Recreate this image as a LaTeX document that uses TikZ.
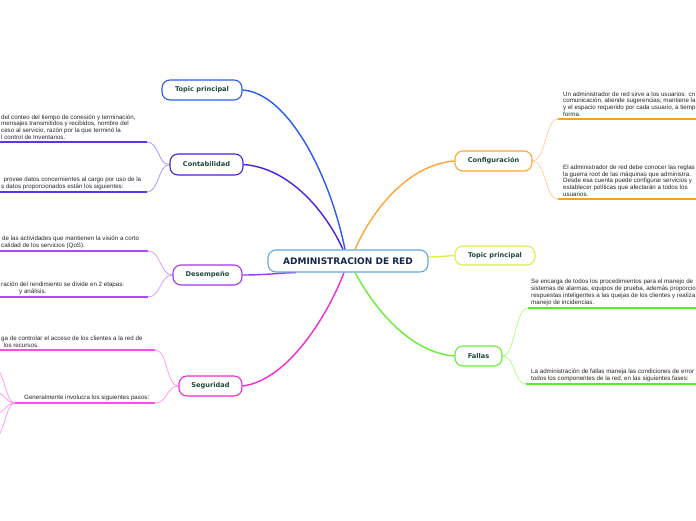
\documentclass[tikz,border=0pt]{standalone}
\usepackage{fontspec}
\setmainfont{Liberation Sans}
\newfontfamily\labfont{DejaVu Sans}
\usetikzlibrary{calc}
\pgfdeclarelayer{background}
\pgfsetlayers{background,main}
\definecolor{nodetext}{HTML}{1E4A3C}
\definecolor{bodytext}{HTML}{262626}
\definecolor{rootborder}{HTML}{5FA8E0}
\definecolor{roottext}{HTML}{14284B}
\definecolor{tpblue}{HTML}{2A5BF0}
\definecolor{contc}{HTML}{4B1FE0}
\definecolor{contsub}{HTML}{A898FF}
\definecolor{contline}{HTML}{5A35F0}
\definecolor{desc}{HTML}{A435EE}
\definecolor{dessub}{HTML}{D49CFF}
\definecolor{desline}{HTML}{B048F5}
\definecolor{segc}{HTML}{F02AD8}
\definecolor{segsub}{HTML}{FF9CEF}
\definecolor{segline}{HTML}{FF4CEB}
\definecolor{confc}{HTML}{FFA535}
\definecolor{confsub}{HTML}{FFD09A}
\definecolor{confline}{HTML}{FFA020}
\definecolor{tprc}{HTML}{DDEE44}
\definecolor{falc}{HTML}{66EE33}
\definecolor{falsub}{HTML}{B0FF90}
\definecolor{falline}{HTML}{55EE22}
\begin{document}
\begin{tikzpicture}[x=1pt,y=-1pt,
  topic/.style={draw, rounded corners=8pt, fill=white, line width=1.1pt, inner sep=0pt,
    minimum height=20pt, font=\labfont\bfseries\fontsize{6.6}{7}\selectfont, text=nodetext},
  body/.style={inner sep=0pt, align=left, anchor=south west,
    font=\fontsize{6.2}{6.9}\selectfont, text=bodytext},
  mainlink/.style={line width=1.4pt},
  sublink/.style={line width=0.8pt},
  uline/.style={line width=2pt}]
\useasboundingbox (0,0) rectangle (696,520);

% nodes
\node[topic, draw=rootborder, minimum width=160pt, minimum height=22pt,
  font=\labfont\bfseries\fontsize{9}{10}\selectfont, text=roottext] (root) at (348,261) {ADMINISTRACION DE RED};
\node[topic, draw=tpblue, minimum width=80pt] (tpl) at (202,90) {Topic principal};
\node[topic, draw=contc, minimum width=73pt, minimum height=21pt] (cont) at (206.5,164.5) {Contabilidad};
\node[topic, draw=desc, minimum width=69pt] (des) at (207.5,275) {Desempeño};
\node[topic, draw=segc, minimum width=63pt] (seg) at (210.5,386) {Seguridad};
\node[topic, draw=confc, minimum width=77pt] (conf) at (493.5,161) {Configuración};
\node[topic, draw=tprc, minimum width=80pt, minimum height=19pt] (tpr) at (495,255.5) {Topic principal};
\node[topic, draw=falc, minimum width=47pt] (fal) at (478.5,356) {Fallas};

% coordinates of branch line ends
\coordinate (c1) at (147,142); \coordinate (c1l) at (-5,142);
\coordinate (c2) at (147,192); \coordinate (c2l) at (-5,192);
\coordinate (d1) at (148,251); \coordinate (d1l) at (-5,251);
\coordinate (d2) at (148,297); \coordinate (d2l) at (-5,297);
\coordinate (s1) at (155,350); \coordinate (s1l) at (-5,350);
\coordinate (s2) at (155,403); \coordinate (s2l) at (15,403);
\coordinate (g1) at (558,119); \coordinate (g1r) at (700,119);
\coordinate (g2) at (558,199); \coordinate (g2r) at (700,199);
\coordinate (f1) at (528,308); \coordinate (f1r) at (700,308);
\coordinate (f2) at (526,384); \coordinate (f2r) at (700,384);
\coordinate (x1) at (-14,362);
\coordinate (x2) at (-14,390);
\coordinate (x3) at (-14,416);
\coordinate (x4) at (-14,444);

\begin{pgfonlayer}{background}
% main links
\draw[mainlink, tpblue] (tpl.east) .. controls (288,93) and (330,175) .. ($(root.north)+(-3,0)$);
\draw[mainlink, contc] (cont.east) .. controls (290,168) and (326,212) .. ($(root.north)+(-5,0)$);
\draw[mainlink, desc] (des.east) .. controls (265,275) and (280,273) .. ($(root.south)+(-52,0)$);
\draw[mainlink, segc] (seg.east) .. controls (290,380) and (330,310) .. ($(root.south)+(-4,0)$);
\draw[mainlink, confc] (conf.west) .. controls (405,165) and (370,215) .. ($(root.north)+(7,0)$);
\draw[mainlink, tprc] ($(root.east)+(0,-4)$) .. controls (440,257) and (445,256) .. (tpr.west);
\draw[mainlink, falc] (fal.west) .. controls (405,352) and (370,300) .. ($(root.south)+(7,0)$);

% sub links
\draw[sublink, contsub] (cont.west) .. controls (158,165) and (159,142) .. (c1);
\draw[sublink, contsub] (cont.west) .. controls (158,165) and (159,192) .. (c2);
\draw[sublink, dessub] (des.west) .. controls (160,275) and (161,251) .. (d1);
\draw[sublink, dessub] (des.west) .. controls (160,275) and (161,297) .. (d2);
\draw[sublink, segsub] (seg.west) .. controls (166,386) and (168,350) .. (s1);
\draw[sublink, segsub] (seg.west) .. controls (166,386) and (168,403) .. (s2);
\draw[sublink, confsub] (conf.east) .. controls (546,161) and (545,119) .. (g1);
\draw[sublink, confsub] (conf.east) .. controls (546,161) and (545,199) .. (g2);
\draw[sublink, falsub] (fal.east) .. controls (515,356) and (515,308) .. (f1);
\draw[sublink, falsub] (fal.east) .. controls (515,356) and (514,384) .. (f2);
\foreach \t in {x1,x2,x3,x4}
  \draw[sublink, segsub] (s2l) .. controls (4,403) and (6,0|-\t) .. (\t);
\end{pgfonlayer}

% underlines
\draw[uline, contline] (c1) -- (c1l);
\draw[uline, contline] (c2) -- (c2l);
\draw[uline, desline] (d1) -- (d1l);
\draw[uline, desline] (d2) -- (d2l);
\draw[uline, segline] (s1) -- (s1l);
\draw[uline, segline] (s2) -- (s2l);
\draw[uline, confline] (g1) -- (g1r);
\draw[uline, confline] (g2) -- (g2r);
\draw[uline, falline] (f1) -- (f1r);
\draw[uline, falline] (f2) -- (f2r);

% texts
\node[body] (tc1) at (1,140) {del conteo del tiempo de conesión y terminación,\\mensajes transmitidos y recibidos, nombre del\\ceso al servicio, razón por la que terminó la\\l control de Inventarios.};
\node[body] (tc2) at (1,190) {\hspace*{2.5pt}provee datos concernientes al cargo por uso de la\\s datos proporcionados están los siguientes:};
\node[body] (td1) at (1,249) {\hspace*{1pt}de las actividades que mantienen la visión a corto\\calidad de los servicios (QoS).};
\node[body] (td2) at (1,295) {ración del rendimiento se divide en 2 etapas:\\\hspace*{18pt}y análisis.};
\node[body] (ts1) at (1,348) {ga de controlar el acceso de los clientes a la red de\\\hspace*{2.5pt}los recursos.};
\node[body] (ts2) at (24,401) {Generalmente involucra los siguientes pasos:};
\node[body] (tg1) at (563,117) {Un administrador de red sirve a los usuarios: cn\\comunicación, atiende sugerencias; mantiene la\\y el espacio requerido por cada usuario, a tiemp\\forma.};
\node[body] (tg2) at (563,197) {El administrador de red debe conocer las reglas\\la guerra root de las máquinas que administra.\\Desde esa cuenta puede configurar servicios y\\establecer políticas que afectarán a todos los\\usuarios.};
\node[body] (tf1) at (531,306) {Se encarga de todos los procedimientos para el manejo de\\sistemas de alarmas, equipos de prueba, además proporcio\\respuestas inteligentes a las quejas de los clientes y realiza\\manejo de incidencias.};
\node[body] (tf2) at (531,382) {La administración de fallas maneja las condiciones de error\\todos los componentes de la red, en las siguientes fases:};
\end{tikzpicture}
\end{document}
